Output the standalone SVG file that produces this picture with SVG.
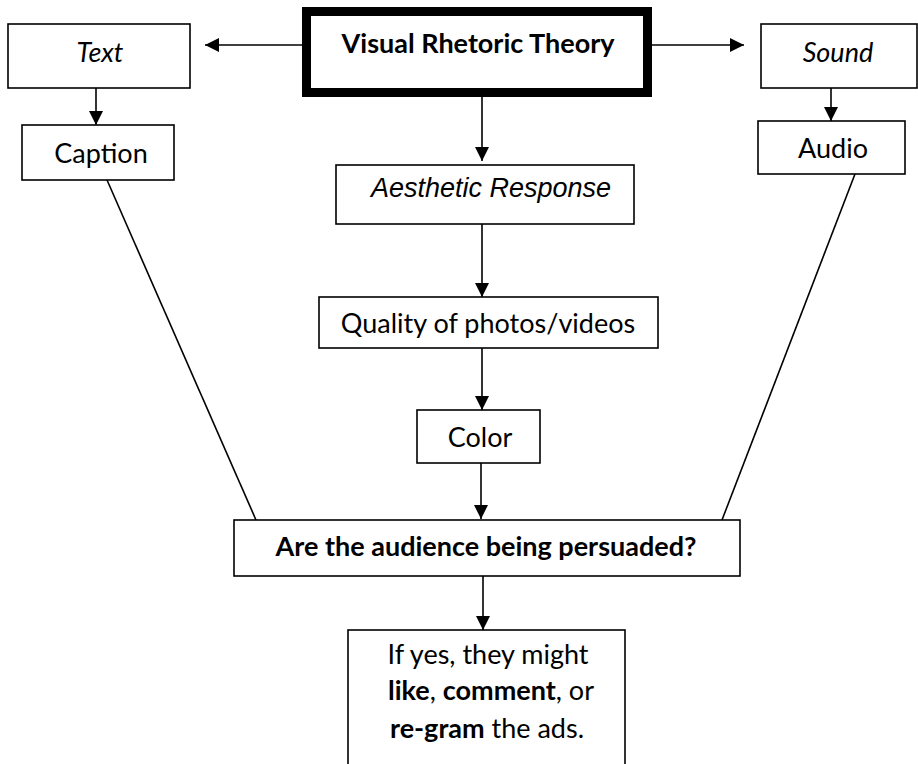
<svg xmlns="http://www.w3.org/2000/svg" width="918" height="764" viewBox="0 0 918 764">
<style>
.box{fill:#fff;stroke:#000;stroke-width:1.6}
.t{font-family:Lato,"Open Sans","Liberation Sans",sans-serif;font-size:27px;fill:#000;text-anchor:middle}
.i{font-style:italic}
.b{font-weight:bold}
.ar{font-family:"Liberation Sans",Arial,sans-serif}
.c{stroke:#000;stroke-width:1.6;fill:none}
</style>
<defs>
<marker id="ah" markerUnits="userSpaceOnUse" markerWidth="14" markerHeight="14" viewBox="0 0 14 14" refX="14" refY="7" orient="auto">
<path d="M0,0 L14,7 L0,14 Z" fill="#000"/>
</marker>
</defs>
<rect width="918" height="764" fill="#fff"/>
<g id="connectors">
<line class="c" x1="302" y1="45" x2="205" y2="45" marker-end="url(#ah)"/>
<line class="c" x1="652" y1="45" x2="744" y2="45" marker-end="url(#ah)"/>
<line class="c" x1="96" y1="68" x2="96" y2="125" marker-end="url(#ah)"/>
<line class="c" x1="831" y1="66" x2="831" y2="121" marker-end="url(#ah)"/>
<line class="c" x1="482" y1="56" x2="482" y2="161" marker-end="url(#ah)"/>
<line class="c" x1="482" y1="224" x2="482" y2="297" marker-end="url(#ah)"/>
<line class="c" x1="482" y1="348" x2="482" y2="410" marker-end="url(#ah)"/>
<line class="c" x1="481" y1="463" x2="481" y2="519" marker-end="url(#ah)"/>
<line class="c" x1="483" y1="573" x2="483" y2="630" marker-end="url(#ah)"/>
<line class="c" x1="107" y1="180" x2="256" y2="520"/>
<line class="c" x1="855" y1="174" x2="722" y2="520"/>
</g>
<g id="vrt">
<rect x="306.5" y="11.5" width="341" height="81" fill="#fff" stroke="#000" stroke-width="9"/>
<text class="t b" x="478" y="53">Visual Rhetoric Theory</text>
</g>
<g id="text">
<rect class="box" x="8" y="24" width="182" height="64"/>
<text class="t i" x="100" y="62" font-size="30">Text</text>
</g>
<g id="caption">
<rect class="box" x="22" y="125" width="152" height="55"/>
<text class="t" x="101" y="163">Caption</text>
</g>
<g id="sound">
<rect class="box" x="761" y="24" width="156" height="64"/>
<text class="t i" x="838" y="62" font-size="29.5">Sound</text>
</g>
<g id="audio">
<rect class="box" x="758" y="121" width="147" height="53"/>
<text class="t" x="833" y="158">Audio</text>
</g>
<g id="aesthetic">
<rect class="box" x="336" y="165" width="298" height="59"/>
<text class="t i ar" x="491" y="197" font-size="24">Aesthetic Response</text>
</g>
<g id="quality">
<rect class="box" x="319" y="297" width="339" height="51"/>
<text class="t" x="488" y="333" font-size="22">Quality of photos/videos</text>
</g>
<g id="color">
<rect class="box" x="417" y="410" width="123" height="53"/>
<text class="t" x="480" y="447">Color</text>
</g>
<g id="persuaded">
<rect class="box" x="234" y="520" width="506" height="56"/>
<text class="t b" x="486" y="556" font-size="27.5">Are the audience being persuaded?</text>
</g>
<g id="result">
<rect class="box" x="348" y="630" width="277" height="150"/>
<text class="t" x="488" y="664" font-size="30">If yes, they might</text>
<text class="t" x="491" y="700" font-size="30"><tspan class="b">like</tspan>, <tspan class="b">comment</tspan>, or</text>
<text class="t" x="487" y="738" font-size="30"><tspan class="b">re-gram</tspan> the ads.</text>
</g>
</svg>
